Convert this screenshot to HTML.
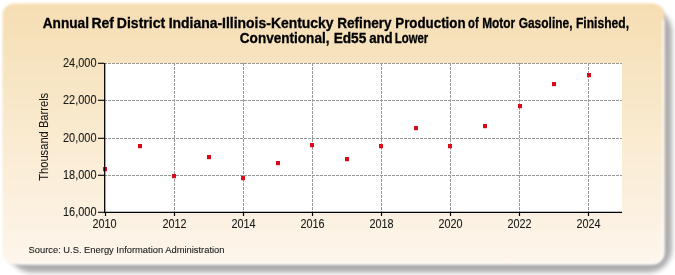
<!DOCTYPE html>
<html><head><meta charset="utf-8">
<style>
html,body{margin:0;padding:0;background:#fff;width:675px;height:275px;overflow:hidden}
svg{display:block;will-change:transform}
text{font-family:"Liberation Sans",sans-serif;fill:#1a1a1a}
.lb text{stroke:#1a1a1a;stroke-width:0.1}
text.yl{stroke:#1a1a1a;stroke-width:0.08}
.tt text{fill:#000;stroke:#000;stroke-width:0.3}
text.src{stroke:#1a1a1a;stroke-width:0.1}
</style></head><body>
<svg width="675" height="275" viewBox="0 0 675 275">
<defs>
<linearGradient id="bg" x1="0" y1="0" x2="0" y2="1">
<stop offset="0" stop-color="#f5deb3"/>
<stop offset="1" stop-color="#fef6ec"/>
</linearGradient>
<filter id="sh" x="-5%" y="-5%" width="115%" height="120%">
<feGaussianBlur stdDeviation="2.5"/>
</filter>
<filter id="soft" x="-2%" y="-2%" width="104%" height="104%">
<feGaussianBlur stdDeviation="1.1"/>
</filter>
</defs>
<rect x="8" y="8" width="664" height="264.5" rx="24" fill="#acacac" filter="url(#sh)"/>
<g filter="url(#soft)">
<rect x="2.5" y="3.5" width="662" height="261" rx="12" fill="url(#bg)"/>
<path d="M663.5 20 V251.5 A11 11 0 0 1 652.5 263.5 H20" fill="none" stroke="#fff" stroke-opacity="0.85" stroke-width="2"/>
</g>
<rect x="104" y="63" width="518" height="149.5" fill="#fff"/>
<g stroke="#999" stroke-width="1" stroke-dasharray="3,1" fill="none">
<line x1="104" y1="63.5" x2="622" y2="63.5"/>
<line x1="104" y1="100.5" x2="622" y2="100.5"/>
<line x1="104" y1="138.5" x2="622" y2="138.5"/>
<line x1="104" y1="175.5" x2="622" y2="175.5"/>
<line x1="174.5" y1="63" x2="174.5" y2="212"/>
<line x1="243.5" y1="63" x2="243.5" y2="212"/>
<line x1="312.5" y1="63" x2="312.5" y2="212"/>
<line x1="381.5" y1="63" x2="381.5" y2="212"/>
<line x1="450.5" y1="63" x2="450.5" y2="212"/>
<line x1="519.5" y1="63" x2="519.5" y2="212"/>
<line x1="588.5" y1="63" x2="588.5" y2="212"/>
</g>
<g fill="#d60a18">
<rect x="103" y="167" width="4" height="4.2"/>
<rect x="138" y="144" width="4" height="4.2"/>
<rect x="172" y="174" width="4" height="4.2"/>
<rect x="207" y="155" width="4" height="4.2"/>
<rect x="241" y="176" width="4" height="4.2"/>
<rect x="276" y="161" width="4" height="4.2"/>
<rect x="310" y="143" width="4" height="4.2"/>
<rect x="345" y="157" width="4" height="4.2"/>
<rect x="379" y="144" width="4" height="4.2"/>
<rect x="414" y="126" width="4" height="4.2"/>
<rect x="448" y="144" width="4" height="4.2"/>
<rect x="483" y="124" width="4" height="4.2"/>
<rect x="518" y="104" width="4" height="4.2"/>
<rect x="552" y="82" width="4" height="4.2"/>
<rect x="587" y="73" width="4" height="4.2"/>
</g>
<g stroke="#000" stroke-width="1.3" fill="none">
<line x1="104.7" y1="63" x2="104.7" y2="213"/>
<line x1="104" y1="212.3" x2="622" y2="212.3"/>
</g><g stroke="#000" stroke-width="1.1" fill="none">
<line x1="98" y1="63.3" x2="104" y2="63.3"/>
<line x1="98" y1="100.3" x2="104" y2="100.3"/>
<line x1="98" y1="138.3" x2="104" y2="138.3"/>
<line x1="98" y1="175.3" x2="104" y2="175.3"/>
<line x1="98" y1="212.3" x2="104" y2="212.3"/>
</g><g stroke="#000" stroke-width="1.2" fill="none">
<line x1="105.5" y1="212" x2="105.5" y2="216"/>
<line x1="174.5" y1="212" x2="174.5" y2="216"/>
<line x1="243.5" y1="212" x2="243.5" y2="216"/>
<line x1="312.5" y1="212" x2="312.5" y2="216"/>
<line x1="381.5" y1="212" x2="381.5" y2="216"/>
<line x1="450.5" y1="212" x2="450.5" y2="216"/>
<line x1="519.5" y1="212" x2="519.5" y2="216"/>
<line x1="588.5" y1="212" x2="588.5" y2="216"/>
</g>
<g class="tt" font-weight="bold" font-size="14.2" fill="#111">
<text x="42.66" y="28" textLength="46.36" lengthAdjust="spacingAndGlyphs">Annual</text>
<text x="91.48" y="28" textLength="22.50" lengthAdjust="spacingAndGlyphs">Ref</text>
<text x="116.82" y="28" textLength="48.34" lengthAdjust="spacingAndGlyphs">District</text>
<text x="168.66" y="28" textLength="164.98" lengthAdjust="spacingAndGlyphs">Indiana-Illinois-Kentucky</text>
<text x="337.16" y="28" textLength="54.50" lengthAdjust="spacingAndGlyphs">Refinery</text>
<text x="395.30" y="28" textLength="70.22" lengthAdjust="spacingAndGlyphs">Production</text>
<text x="468.02" y="28" textLength="10.62" lengthAdjust="spacingAndGlyphs">of</text>
<text x="482.16" y="28" textLength="32.98" lengthAdjust="spacingAndGlyphs">Motor</text>
<text x="518.66" y="28" textLength="53.84" lengthAdjust="spacingAndGlyphs">Gasoline,</text>
<text x="575.98" y="28" textLength="53.02" lengthAdjust="spacingAndGlyphs">Finished,</text>
<text x="239.84" y="43.1" textLength="89.66" lengthAdjust="spacingAndGlyphs">Conventional,</text>
<text x="333.66" y="43.1" textLength="32.66" lengthAdjust="spacingAndGlyphs">Ed55</text>
<text x="369.18" y="43.1" textLength="23.52" lengthAdjust="spacingAndGlyphs">and</text>
<text x="394.82" y="43.1" textLength="33.48" lengthAdjust="spacingAndGlyphs">Lower</text>
</g>
<g class="lb" font-size="12.2" text-anchor="end">
<text x="96.5" y="67.2" textLength="33.5" lengthAdjust="spacingAndGlyphs">24,000</text>
<text x="96.5" y="104.2" textLength="33.5" lengthAdjust="spacingAndGlyphs">22,000</text>
<text x="96.5" y="142.2" textLength="33.5" lengthAdjust="spacingAndGlyphs">20,000</text>
<text x="96.5" y="179.2" textLength="33.5" lengthAdjust="spacingAndGlyphs">18,000</text>
<text x="96.5" y="216.2" textLength="33.5" lengthAdjust="spacingAndGlyphs">16,000</text>
</g>
<g class="lb" font-size="12.3" text-anchor="middle">
<text x="104.5" y="227.8" textLength="24.1" lengthAdjust="spacingAndGlyphs">2010</text>
<text x="174.5" y="227.8" textLength="24.1" lengthAdjust="spacingAndGlyphs">2012</text>
<text x="243.5" y="227.8" textLength="24.1" lengthAdjust="spacingAndGlyphs">2014</text>
<text x="312.5" y="227.8" textLength="24.1" lengthAdjust="spacingAndGlyphs">2016</text>
<text x="381.5" y="227.8" textLength="24.1" lengthAdjust="spacingAndGlyphs">2018</text>
<text x="450.5" y="227.8" textLength="24.1" lengthAdjust="spacingAndGlyphs">2020</text>
<text x="519.5" y="227.8" textLength="24.1" lengthAdjust="spacingAndGlyphs">2022</text>
<text x="588.5" y="227.8" textLength="24.1" lengthAdjust="spacingAndGlyphs">2024</text>
</g>
<text class="yl" transform="translate(48.3,136.8) rotate(-90)" text-anchor="middle" font-size="12.5" textLength="88" lengthAdjust="spacingAndGlyphs">Thousand Barrels</text>
<text class="src" x="28.5" y="252.8" font-size="9.4" textLength="196" lengthAdjust="spacingAndGlyphs">Source: U.S. Energy Information Administration</text>
</svg>
</body></html>
